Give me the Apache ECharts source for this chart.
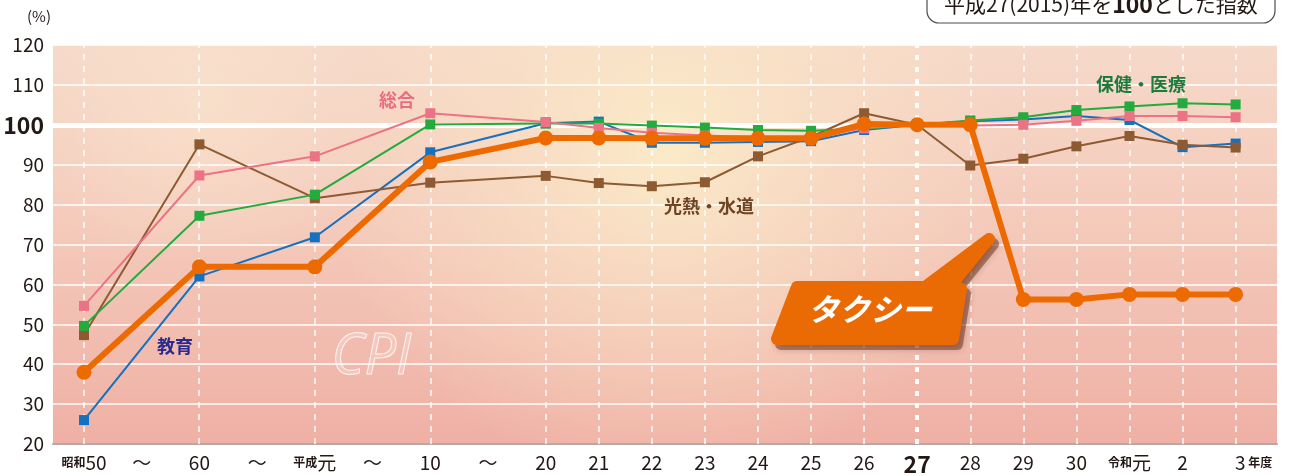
<!DOCTYPE html>
<html>
<head>
<meta charset="UTF-8">
<title>CPI タクシー</title>
<script src="https://cdn.jsdelivr.net/npm/echarts@6/dist/echarts.min.js"></script>
<style>
  html, body { margin: 0; padding: 0; background: #fff; }
  #chart { width: 1290px; height: 476px; }
</style>
</head>
<body>
<div id="chart"></div>
<script>
// 年度ラベル（昭和50〜令和3）
var xLabels = ['昭和50', '60', '平成元', '10', '20', '21', '22', '23', '24', '25', '26', '27', '28', '29', '30', '令和元', '2', '3'];
// 横位置（前半は5年・10年おきの間隔）
var xPos = [0, 2.175, 4.35, 6.525, 8.7, 9.7, 10.7, 11.7, 12.7, 13.7, 14.7, 15.7, 16.7, 17.7, 18.7, 19.7, 20.7, 21.7];
var tildePos = [1.0875, 3.2625, 5.4375, 7.6125];
var yTicks = [20, 30, 40, 50, 60, 70, 80, 90, 100, 110, 120];

var sogo   = [54.6, 87.3, 92.1, 102.9, 100.7, 99.2, 98.0, 97.3, 96.9, 96.7, 99.2, 100, 99.8, 100.0, 101.0, 102.2, 102.2, 101.9];
var hoken  = [49.6, 77.2, 82.5, 100.1, 100.3, 100.3, 99.8, 99.3, 98.7, 98.5, 99.0, 100, 101.1, 101.9, 103.7, 104.6, 105.4, 105.1];
var kyoiku = [26.0, 62.0, 71.8, 93.1, 100.4, 100.8, 95.5, 95.5, 95.7, 95.9, 98.7, 100, 100.9, 101.3, 102.2, 101.2, 94.4, 95.3];
var konetsu = [47.3, 95.1, 81.6, 85.5, 87.2, 85.4, 84.6, 85.6, 92.1, 97.0, 102.9, 100, 89.8, 91.5, 94.6, 97.2, 95.0, 94.3];
var taxi   = [38.0, 64.4, 64.4, 90.7, 96.7, 96.7, 96.6, 96.6, 96.6, 96.6, 100.2, 100, 100, 56.2, 56.2, 57.5, 57.5, 57.5];

function pts(arr) {
    return xPos.map(function (x, i) { return [x, arr[i]]; });
}

var labelMap = {};
xPos.forEach(function (x, i) { labelMap[x.toFixed(4)] = xLabels[i]; });
tildePos.forEach(function (x) { labelMap[x.toFixed(4)] = '〜'; });

function fmtX(value) {
    var s = labelMap[Number(value).toFixed(4)];
    if (s === undefined) return '';
    if (s === '昭和50') return '{era|昭和}{n|50}';
    if (s === '平成元') return '{era|平成}{n|元}';
    if (s === '令和元') return '{era|令和}{n|元}';
    if (s === '27') return '{b|27}';
    if (s === '3') return '{sp|}{n|3}{era| 年度}';
    if (s === '〜') return '{n|〜}';
    return '{n|' + s + '}';
}

var font = '"Noto Sans CJK JP", "Noto Sans", sans-serif';

var chart = echarts.init(document.getElementById('chart'));

var vLines = xPos.map(function (x, i) {
    if (i === 11) {
        return { xAxis: x, lineStyle: { color: '#ffffff', width: 4, type: [5, 7] } };
    }
    return { xAxis: x };
});

function lineSeries(name, data, color, z) {
    return {
        name: name,
        type: 'line',
        data: pts(data),
        z: z,
        symbol: 'rect',
        symbolSize: 10,
        showSymbol: true,
        lineStyle: { color: color, width: 2 },
        itemStyle: { color: color },
        emphasis: { disabled: true },
        animation: false
    };
}

var callout = [[797, 287], [925, 287], [989, 239], [950, 287], [961, 289], [953, 339], [777, 339]];

var option = {
    backgroundColor: '#ffffff',
    animation: false,
    textStyle: { fontFamily: font },
    grid: { left: 53, right: 13, top: 45, bottom: 32 },
    xAxis: {
        type: 'value',
        min: -0.584,
        max: 22.48,
        axisLine: { show: true, lineStyle: { color: '#b3aaa8', width: 2 } },
        axisTick: { show: false },
        splitLine: { show: false },
        axisLabel: {
            customValues: xPos.concat(tildePos),
            formatter: fmtX,
            margin: 9,
            hideOverlap: false,
            rich: {
                n: { fontSize: 19, color: '#231815', fontFamily: font },
                era: { fontSize: 12, color: '#231815', fontWeight: 'bold', fontFamily: font },
                b: { fontSize: 23, color: '#231815', fontWeight: 'bold', fontFamily: font },
                sp: { width: 36 }
            }
        }
    },
    yAxis: {
        type: 'value',
        min: 20,
        max: 120,
        interval: 10,
        axisLine: { show: false },
        axisTick: { show: false },
        splitLine: { show: true, lineStyle: { color: '#ffffff', width: 1.6 } },
        axisLabel: {
            margin: 9,
            formatter: function (v) { return v === 100 ? '{b|100}' : '{n|' + v + '}'; },
            rich: {
                n: { fontSize: 19, color: '#231815', fontFamily: font },
                b: { fontSize: 23, color: '#231815', fontWeight: 'bold', fontFamily: font }
            }
        }
    },
    graphic: [
        {
            type: 'rect', z: -3, silent: true,
            shape: { x: 53, y: 45, width: 1224, height: 399 },
            style: {
                fill: {
                    type: 'linear', x: 0, y: 0, x2: 0, y2: 1,
                    colorStops: [
                        { offset: 0, color: '#f6d9c9' },
                        { offset: 0.45, color: '#f4cabb' },
                        { offset: 1, color: '#efb0a5' }
                    ]
                }
            }
        },
        {
            type: 'rect', z: -2, silent: true,
            shape: { x: 53, y: 45, width: 1224, height: 399 },
            style: {
                fill: {
                    type: 'radial', x: 0.5, y: 0.25, r: 0.85,
                    colorStops: [
                        { offset: 0, color: 'rgba(251,236,200,0.95)' },
                        { offset: 0.5, color: 'rgba(250,228,198,0.5)' },
                        { offset: 1, color: 'rgba(250,228,198,0)' }
                    ]
                }
            }
        },
        {
            type: 'rect', z: -2, silent: true,
            shape: { x: 53, y: 45, width: 500, height: 200 },
            style: {
                fill: {
                    type: 'radial', x: 0.3, y: 0.3, r: 0.9,
                    colorStops: [
                        { offset: 0, color: 'rgba(249,228,205,0.7)' },
                        { offset: 1, color: 'rgba(249,228,205,0)' }
                    ]
                }
            }
        },
        {
            type: 'text', z: -1, silent: true,
            left: 331, top: 330,
            style: {
                text: 'CPI', fontSize: 56, fontStyle: 'italic', fontFamily: '"Open Sans", sans-serif',
                fill: 'rgba(255,255,255,0.2)', stroke: 'rgba(255,255,255,0.8)', lineWidth: 1
            }
        },
        {
            type: 'text', silent: true, left: 27, top: 9,
            style: { text: '(%)', fontSize: 15, fill: '#231815', fontFamily: font }
        },
        {
            type: 'rect', silent: true,
            shape: { x: 927, y: -15, width: 348, height: 38, r: 12 },
            style: { fill: '#ffffff', stroke: '#4d4d4d', lineWidth: 1.2 }
        },
        {
            type: 'text', silent: true, left: 944, top: -7,
            style: {
                text: '平成27(2015)年を{b|100}とした指数',
                fontSize: 21, fill: '#231815', fontFamily: font,
                rich: { b: { fontSize: 23, fontWeight: 'bold', fill: '#231815', fontFamily: font } }
            }
        },
        {
            type: 'text', z: 50, silent: true, left: 379, top: 91,
            style: { text: '総合', fontSize: 18, fontWeight: 'bold', fill: '#e96d82', fontFamily: font }
        },
        {
            type: 'text', z: 50, silent: true, left: 1096, top: 75,
            style: { text: '保健・医療', fontSize: 18, fontWeight: 'bold', fill: '#1b7b3d', fontFamily: font }
        },
        {
            type: 'text', z: 50, silent: true, left: 664, top: 197,
            style: { text: '光熱・水道', fontSize: 18, fontWeight: 'bold', fill: '#6e4524', fontFamily: font }
        },
        {
            type: 'text', z: 50, silent: true, left: 157, top: 337,
            style: { text: '教育', fontSize: 18, fontWeight: 'bold', fill: '#2b2a8c', fontFamily: font }
        },
        {
            type: 'polygon', z: 59, silent: true,
            shape: { points: callout.map(function (p) { return [p[0] + 4, p[1] + 5]; }) },
            style: {
                fill: 'rgba(90,35,15,0.45)', stroke: 'rgba(90,35,15,0.45)', lineWidth: 12, lineJoin: 'round',
                shadowBlur: 6, shadowColor: 'rgba(90,35,15,0.5)'
            }
        },
        {
            type: 'polygon', z: 60, silent: true,
            shape: { points: callout },
            style: { fill: '#ea6a04', stroke: '#ea6a04', lineWidth: 12, lineJoin: 'round' }
        },
        {
            type: 'text', z: 61, silent: true, left: 808, top: 294,
            style: {
                text: 'タクシー', fontSize: 31, fontWeight: 'bold', fontStyle: 'italic',
                fill: '#ffffff', fontFamily: font
            }
        }
    ],
    series: [
        {
            name: 'guide',
            type: 'line',
            data: [],
            z: 1,
            silent: true,
            markLine: {
                silent: true,
                z: 1,
                symbol: 'none',
                label: { show: false },
                animation: false,
                lineStyle: { color: 'rgba(255,255,255,0.95)', width: 1.5, type: [6, 6] },
                data: vLines.concat([
                    { yAxis: 100, lineStyle: { color: '#ffffff', width: 5, type: 'solid' } }
                ])
            }
        },
        lineSeries('教育', kyoiku, '#1570bf', 3),
        lineSeries('光熱・水道', konetsu, '#8e5a31', 4),
        lineSeries('保健・医療', hoken, '#23ab3e', 5),
        lineSeries('総合', sogo, '#ec7385', 6),
        {
            name: 'タクシー',
            type: 'line',
            data: pts(taxi),
            z: 8,
            symbol: 'circle',
            symbolSize: 15,
            lineStyle: { color: '#ec6a00', width: 6 },
            itemStyle: { color: '#ec6a00' },
            emphasis: { disabled: true },
            animation: false
        }
    ]
};

chart.setOption(option);
</script>
</body>
</html>
